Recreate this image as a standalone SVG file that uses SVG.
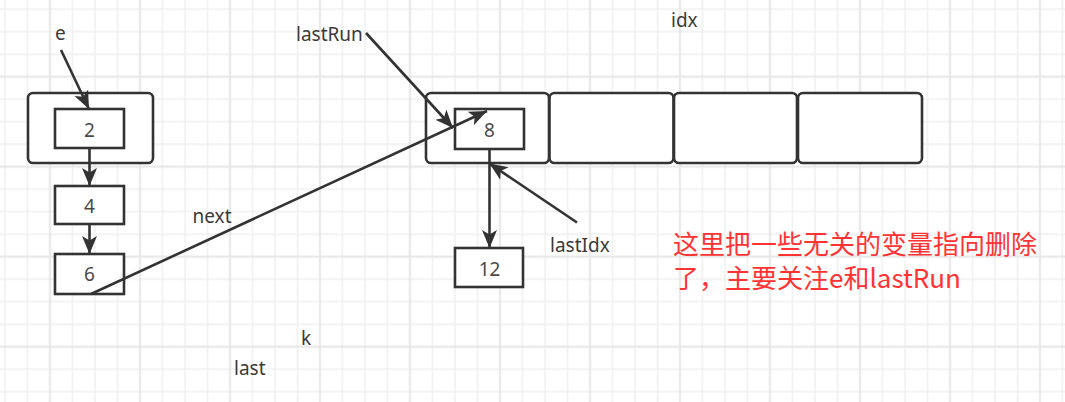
<svg xmlns="http://www.w3.org/2000/svg" width="1065" height="402" viewBox="0 0 1065 402">
  <style>
    .box { fill: #ffffff; stroke: #333333; stroke-width: 2.6; }
    .lbl { font-family: "Noto Sans", "Liberation Sans", sans-serif; font-size: 19px; fill: #3a3a3a; }
    .num { font-family: "Noto Sans", "Liberation Sans", sans-serif; font-size: 19px; fill: #4a4a4a; text-anchor: middle; }
    .edge { fill: none; stroke: #333333; stroke-width: 2.6; marker-end: url(#arrow); }
    .note { font-family: "Noto Sans CJK SC", "Noto Sans", sans-serif; font-size: 26px; fill: #ff3333; }
  </style>
  <defs>
    <pattern id="grid" patternUnits="userSpaceOnUse" x="-6.25" y="20.45" width="90" height="90">
      <rect x="10.5" y="0" width="1.5" height="90" fill="#efefef"/>
      <rect x="33" y="0" width="1.5" height="90" fill="#efefef"/>
      <rect x="77.9" y="0" width="1.5" height="90" fill="#efefef"/>
      <rect x="0" y="10.5" width="90" height="1.5" fill="#efefef"/>
      <rect x="0" y="33" width="90" height="1.5" fill="#efefef"/>
      <rect x="0" y="77.9" width="90" height="1.5" fill="#efefef"/>
      <rect x="55.25" y="0" width="2" height="90" fill="#e6e6e6"/>
      <rect x="0" y="55.25" width="90" height="2" fill="#e6e6e6"/>
    </pattern>
    <marker id="arrow" markerUnits="userSpaceOnUse" markerWidth="20" markerHeight="16" refX="18" refY="7.5" orient="auto">
      <path d="M0,0 L18,7.5 L0,15 L4.5,7.5 z" fill="#333333"/>
    </marker>
  </defs>
  <rect x="0" y="0" width="1065" height="402" fill="#ffffff"/>
  <rect x="0" y="0" width="1065" height="402" fill="url(#grid)"/>

  <g id="bucket0">
    <rect class="box" x="28" y="93" width="125" height="70" rx="5"/>
  </g>
  <g id="node2">
    <rect class="box" x="55" y="109" width="69" height="39"/>
    <text class="num" x="89.5" y="137">2</text>
  </g>
  <g id="node4">
    <rect class="box" x="55" y="186" width="69" height="38"/>
    <text class="num" x="89.5" y="213">4</text>
  </g>
  <g id="node6">
    <rect class="box" x="55" y="254" width="69" height="40"/>
    <text class="num" x="89.5" y="281">6</text>
  </g>

  <g id="array">
    <rect class="box" x="426" y="93" width="123" height="70" rx="5"/>
    <rect class="box" x="549.5" y="93" width="124" height="70" rx="5"/>
    <rect class="box" x="674" y="93" width="123" height="70" rx="5"/>
    <rect class="box" x="798" y="93" width="124" height="70" rx="5"/>
  </g>
  <g id="node8">
    <rect class="box" x="455" y="109" width="69" height="40"/>
    <text class="num" x="489.5" y="137">8</text>
  </g>
  <g id="node12">
    <rect class="box" x="455" y="248" width="68" height="39"/>
    <text class="num" x="489.5" y="276">12</text>
  </g>

  <g id="connectors">
    <line class="edge" x1="61" y1="50" x2="89" y2="109"/>
    <line class="edge" x1="89.5" y1="148" x2="89.5" y2="186"/>
    <line class="edge" x1="89.5" y1="224" x2="89.5" y2="254"/>
    <line class="edge" x1="91" y1="294" x2="487" y2="111"/>
    <line class="edge" x1="366" y1="33" x2="453" y2="128"/>
    <line class="edge" x1="577" y1="222.5" x2="489.5" y2="163.5"/>
    <line class="edge" x1="489.5" y1="149" x2="489.5" y2="248"/>
  </g>

  <g id="labels">
    <text class="lbl" x="55" y="40">e</text>
    <text class="lbl" x="296" y="40.5">lastRun</text>
    <text class="lbl" x="671" y="26.5">idx</text>
    <text class="lbl" x="192.5" y="223">next</text>
    <text class="lbl" x="550" y="251.5">lastIdx</text>
    <text class="lbl" x="301" y="345">k</text>
    <text class="lbl" x="234" y="375">last</text>
  </g>

  <g id="note">
    <text class="note" x="673" y="254">这里把一些无关的变量指向删除</text>
    <text class="note" x="673" y="288">了，主要关注e和lastRun</text>
  </g>
</svg>
